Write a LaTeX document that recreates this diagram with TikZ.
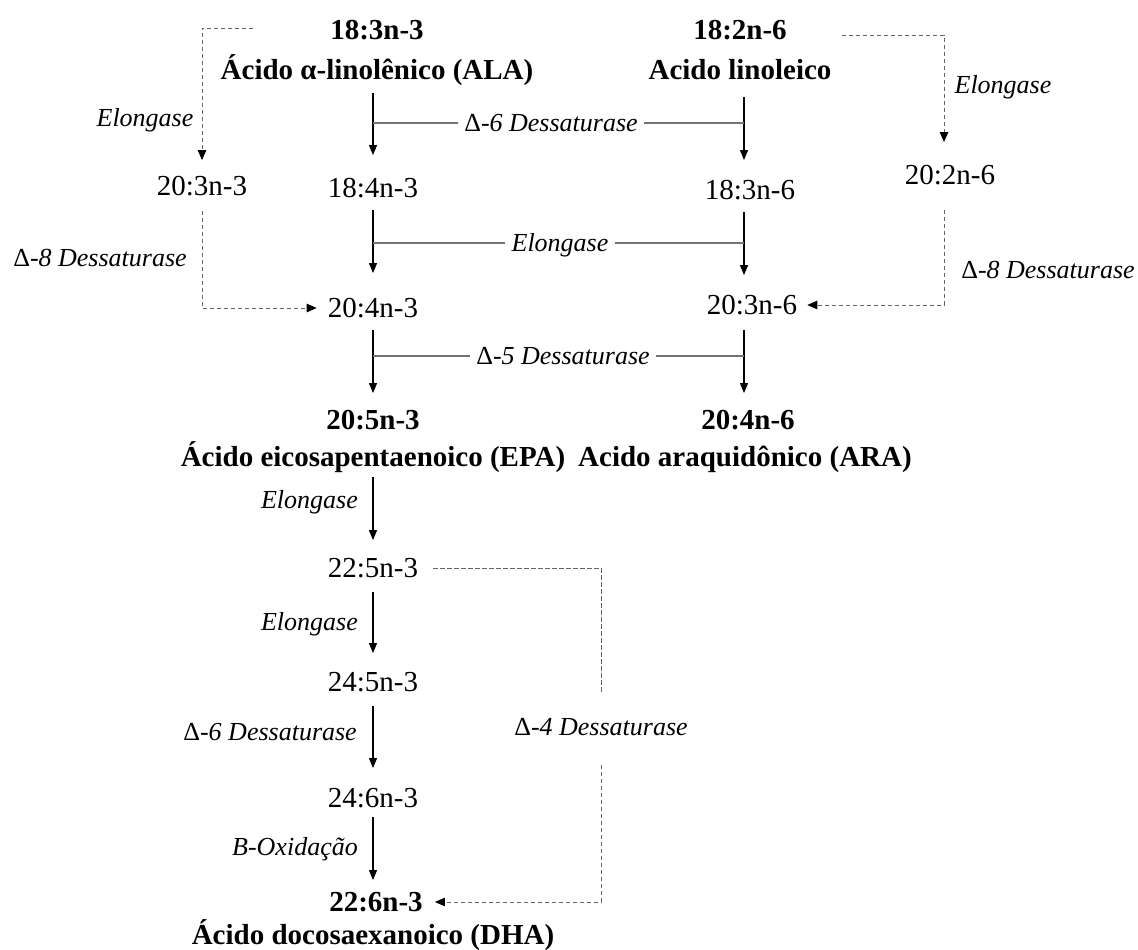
\documentclass[tikz,border=0pt]{standalone}
\usepackage{fontspec}
\setmainfont{Liberation Serif}
\usetikzlibrary{arrows.meta}
\newcommand\DeltaUp{{\upshape Δ}}
\begin{document}
\begin{tikzpicture}[x=1pt,y=-1pt,
  code/.style={font=\fontsize{29}{34}\selectfont, inner sep=0pt, text height=19.5pt, text depth=0pt},
  bcode/.style={code, font=\fontsize{29}{34}\selectfont\bfseries},
  enz/.style={font=\fontsize{26}{30}\selectfont\itshape, inner sep=0pt, text height=17.5pt, text depth=0pt},
  midenz/.style={enz, fill=white, inner xsep=6pt},
  arr/.style={draw=black, line width=1.1pt, -{Triangle[width=8pt,length=10pt]}},
  tickline/.style={draw=black!55, line width=1.1pt},
  dsh/.style={draw=black!60, line width=0.9pt, dash pattern=on 4.5pt off 2.5pt},
  darr/.style={dsh, -{Triangle[width=8.5pt,length=10pt,color=black,fill=black]}}
]
\useasboundingbox[fill=white] (0,0) rectangle (1138,950);
\coordinate (rx) at (744,0);

% omega-3 column
\node[bcode] (n183) at (377,30) {18:3n-3};
\node[bcode] (ala)  at (377,70) {Ácido α-linolênico (ALA)};
\node[code]  (n184) at (373,188) {18:4n-3};
\node[code]  (n204) at (373,308) {20:4n-3};
\node[bcode] (n205) at (373,420) {20:5n-3};
\node[bcode] (epa)  at (373,457) {Ácido eicosapentaenoico (EPA)};
\node[code]  (n225) at (373,568) {22:5n-3};
\node[code]  (n245) at (373,682) {24:5n-3};
\node[code]  (n246) at (373,798) {24:6n-3};
\node[bcode] (n226) at (376,902) {22:6n-3};
\node[bcode] (dha)  at (373,935) {Ácido docosaexanoico (DHA)};
\node[code]  (n203) at (202,186) {20:3n-3};

% omega-6 column
\node[bcode] (n182) at (740,30) {18:2n-6};
\node[bcode] (la)   at (740,70) {Acido linoleico};
\node[code]  (n36)  at (750,190) {18:3n-6};
\node[code]  (n363) at (752,305) {20:3n-6};
\node[bcode] (n46)  at (748,420) {20:4n-6};
\node[bcode] (ara)  at (745,457) {Acido araquidônico (ARA)};
\node[code]  (n202) at (950,175) {20:2n-6};

% enzyme labels
\node[midenz] (e1) at (551,123) {\DeltaUp-6 Dessaturase};
\node[midenz] (e2) at (560,243) {Elongase};
\node[midenz] (e3) at (563,356) {\DeltaUp-5 Dessaturase};
\node[enz] (l1) at (145,118) {Elongase};
\node[enz] (l2) at (100,258) {\DeltaUp-8 Dessaturase};
\node[enz] (r1) at (1003,85) {Elongase};
\node[enz] (r2) at (1048,270) {\DeltaUp-8 Dessaturase};
\node[enz, anchor=east] (b1) at (358,500) {Elongase};
\node[enz, anchor=east] (b2) at (358,622) {Elongase};
\node[enz, anchor=east] (b3) at (357,732) {\DeltaUp-6 Dessaturase};
\node[enz, anchor=east] (b4) at (358,847) {B-Oxidação};
\node[enz] (d4) at (601,727) {\DeltaUp-4 Dessaturase};

% left vertical arrows
\draw[arr, shorten <=13pt, shorten >=23pt] (ala.south -| n184.north) -- (n184.north);
\draw[arr, shorten <=12pt, shorten >=25pt] (n184.south) -- (n204.north);
\draw[arr, shorten <=12pt, shorten >=17pt] (n204.south) -- (n205.north);
\draw[arr, shorten <=10pt, shorten >=18pt] (epa.south) -- (n225.north);
\draw[arr, shorten <=14pt, shorten >=19pt] (n225.south) -- (n245.north);
\draw[arr, shorten <=14pt, shorten >=20pt] (n245.south) -- (n246.north);
\draw[arr, shorten <=9pt, shorten >=12pt] (n246.south) -- (n246.south |- n226.north);

% right vertical arrows
\draw[arr, shorten <=17pt, shorten >=20pt] (la.south -| rx) -- (rx |- n36.north);
\draw[arr, shorten <=12pt, shorten >=20pt] (n36.south -| rx) -- (rx |- n363.north);
\draw[arr, shorten <=15pt, shorten >=17pt] (n363.south -| rx) -- (rx |- n46.north);

% horizontal enzyme ticks
\draw[tickline] (e1 -| n184) -- (e1.west);
\draw[tickline] (e1.east) -- (e1 -| rx);
\draw[tickline] (e2 -| n184) -- (e2.west);
\draw[tickline] (e2.east) -- (e2 -| rx);
\draw[tickline] (e3 -| n184) -- (e3.west);
\draw[tickline] (e3.east) -- (e3 -| rx);

% dashed alternative routes
\draw[darr, shorten >=16pt] ([xshift=-77pt,yshift=2pt]n183.west) -| (n203.north);
\draw[darr, shorten <=15pt, shorten >=11pt] (n203.south) |- (n204.west);
\draw[darr, shorten >=23pt] ([xshift=55pt,yshift=-5pt]n182.east) -| ([xshift=-6pt]n202.north);
\draw[darr, shorten <=25pt, shorten >=10pt] ([xshift=-6pt]n202.south) |- (n363.east);
\draw[dsh, shorten >=26pt] ([xshift=15pt]n225.east) -| (d4.north);
\draw[darr, shorten <=29pt, shorten >=12pt] (d4.south) |- (n226.east);
\end{tikzpicture}
\end{document}
